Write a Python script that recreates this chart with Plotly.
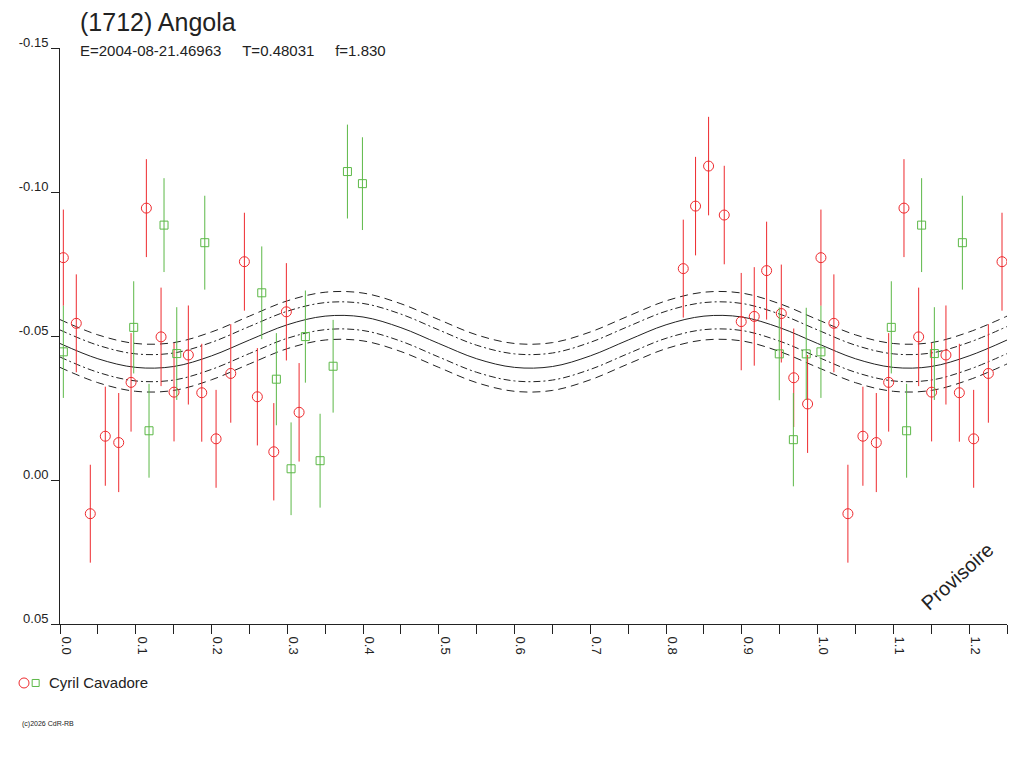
import plotly.graph_objects as go

# lightcurve data (phase, magnitude, error)
red_phase = [0.0044, 0.0215, 0.0400, 0.0598, 0.0775, 0.0938, 0.1140, 0.1334,
             0.1505, 0.1694, 0.1871, 0.2060, 0.2254, 0.2434, 0.2605, 0.2822,
             0.2988, 0.3156, 0.8227, 0.8389, 0.8561, 0.8768, 0.8992, 0.9164,
             0.9327, 0.9521, 0.9685, 0.9868]
red_mag = [-0.0772, -0.0544, 0.0117, -0.0152, -0.0130, -0.0339, -0.0944, -0.0497,
           -0.0305, -0.0434, -0.0303, -0.0143, -0.0370, -0.0758, -0.0289, -0.0098,
           -0.0584, -0.0235, -0.0734, -0.0951, -0.1090, -0.0920, -0.0550, -0.0568,
           -0.0727, -0.0578, -0.0355, -0.0264]
red_err = [0.0167, 0.0170, 0.0170, 0.0172, 0.0172, 0.0171, 0.0170, 0.0171,
           0.0171, 0.0172, 0.0170, 0.0170, 0.0171, 0.0170, 0.0169, 0.0169,
           0.0169, 0.0171, 0.0170, 0.0171, 0.0171, 0.0171, 0.0169, 0.0171,
           0.0170, 0.0170, 0.0171, 0.0170]

green_phase = [0.0044, 0.0973, 0.1175, 0.1373, 0.1541, 0.1911, 0.2663, 0.2856,
               0.3050, 0.3239, 0.3433, 0.3605, 0.3794, 0.3992, 0.9494, 0.9680,
               0.9850]
green_mag = [-0.0445, -0.0530, -0.0171, -0.0885, -0.0439, -0.0824, -0.0650, -0.0350,
             -0.0039, -0.0498, -0.0067, -0.0395, -0.1071, -0.1029, -0.0438, -0.0140,
             -0.0438]
green_err = [0.0160, 0.0160, 0.0163, 0.0163, 0.0161, 0.0163, 0.0161, 0.0160,
             0.0161, 0.0160, 0.0163, 0.0161, 0.0163, 0.0161, 0.0161, 0.0162,
             0.0160]

# fitted curve, read every 0.05 in phase
curve_phase = [0.00, 0.05, 0.10, 0.15, 0.20, 0.25, 0.30, 0.35, 0.40, 0.45,
               0.50, 0.55, 0.60, 0.65, 0.70, 0.75, 0.80, 0.85, 0.90, 0.95,
               1.00, 1.05, 1.10, 1.15, 1.20, 1.25]
curve_mag = [-0.0474, -0.0421, -0.0391, -0.0394, -0.0431, -0.0486, -0.0539, -0.0569,
             -0.0566, -0.0529, -0.0474, -0.0421, -0.0391, -0.0394, -0.0431, -0.0486,
             -0.0539, -0.0569, -0.0566, -0.0529, -0.0474, -0.0421, -0.0391, -0.0394,
             -0.0431, -0.0486]
inner_band = 0.0047
outer_band = 0.0083

y_ticks = [-0.15, -0.10, -0.05, 0.00, 0.05]
y_labels = ["-0.15", "-0.10", "-0.05", "0.00", "0.05"]
x_ticks = [0.0, 0.1, 0.2, 0.3, 0.4, 0.5, 0.6, 0.7, 0.8, 0.9, 1.0, 1.1, 1.2]
x_labels = ["0.0", "0.1", "0.2", "0.3", "0.4", "0.5", "0.6", "0.7", "0.8",
            "0.9", "1.0", "1.1", "1.2"]

RED = "#ee2a2e"
GREEN = "#5cb847"
INK = "#222222"
FONT = "Liberation Sans"
X_MAX = 1.25


def wrap(phase, mag, err):
    # repeat the start of the cycle after phase 1
    p, m, e = list(phase), list(mag), list(err)
    for a, b, c in zip(phase, mag, err):
        if a + 1 <= X_MAX:
            p.append(a + 1)
            m.append(b)
            e.append(c)
    return p, m, e


fig = go.Figure()

line_styles = [
    (outer_band, "8px,5px"),
    (inner_band, "7px,3px,2px,3px"),
    (-inner_band, "7px,3px,2px,3px"),
    (-outer_band, "8px,5px"),
]
for offset, dash in line_styles:
    fig.add_trace(go.Scatter(
        x=curve_phase, y=[v + offset for v in curve_mag],
        mode="lines", line=dict(color=INK, width=1, dash=dash, shape="spline"),
        hoverinfo="skip", showlegend=False))

fig.add_trace(go.Scatter(
    x=curve_phase, y=curve_mag, mode="lines",
    line=dict(color=INK, width=1, shape="spline"),
    hoverinfo="skip", showlegend=False))

for phase, mag, err, color, symbol, size in [
        (red_phase, red_mag, red_err, RED, "circle-open", 10),
        (green_phase, green_mag, green_err, GREEN, "square-open", 8)]:
    p, m, e = wrap(phase, mag, err)
    fig.add_trace(go.Scatter(
        x=p, y=m, mode="markers",
        marker=dict(symbol=symbol, size=size, color=color, line=dict(width=1, color=color)),
        error_y=dict(type="data", array=e, visible=True, color=color, thickness=1, width=0),
        showlegend=False))

fig.update_xaxes(
    range=[0, X_MAX], tickvals=x_ticks, ticktext=x_labels, tickangle=90,
    ticks="outside", ticklen=9, tickcolor=INK, ticklabelshift=6,
    minor=dict(dtick=0.05, ticks="outside", ticklen=9, tickcolor=INK),
    showline=True, linecolor=INK, linewidth=1, showgrid=False, zeroline=False,
    tickfont=dict(family=FONT, size=13, color=INK))
fig.update_yaxes(
    range=[0.05, -0.15], tickvals=y_ticks, ticktext=y_labels,
    ticks="outside", ticklen=8, tickcolor=INK, ticklabelshift=6,
    showline=True, linecolor=INK, linewidth=1, showgrid=False, zeroline=False,
    tickfont=dict(family=FONT, size=13, color=INK))

fig.add_annotation(text="(1712) Angola", xref="paper", yref="paper", x=0.019, y=1.046,
                   xanchor="left", yanchor="middle", showarrow=False,
                   font=dict(family=FONT, size=25, color=INK))
fig.add_annotation(text="E=2004-08-21.46963\u00a0\u00a0\u00a0\u00a0\u00a0T=0.48031\u00a0\u00a0\u00a0\u00a0\u00a0f=1.830",
                   xref="paper", yref="paper", x=0.019, y=0.9965,
                   xanchor="left", yanchor="middle", showarrow=False,
                   font=dict(family=FONT, size=15, color=INK))
fig.add_annotation(text="Provisoire", xref="paper", yref="paper", x=0.948, y=0.083,
                   xanchor="center", yanchor="middle", textangle=-42, showarrow=False,
                   font=dict(family=FONT, size=20, color=INK))
fig.add_annotation(text="Cyril Cavadore", xref="paper", yref="paper", x=-0.0135, y=-0.1024,
                   xanchor="left", yanchor="middle", showarrow=False,
                   font=dict(family=FONT, size=15, color=INK))
fig.add_annotation(text="(c)2026 CdR-RB", xref="paper", yref="paper", x=-0.042, y=-0.1736,
                   xanchor="left", yanchor="middle", showarrow=False,
                   font=dict(family=FONT, size=7, color=INK))

# legend symbols
fig.add_shape(type="circle", xref="paper", yref="paper", xsizemode="pixel", ysizemode="pixel",
              xanchor=-0.038, yanchor=-0.1024, x0=-5, x1=5, y0=-5, y1=5,
              line=dict(color=RED, width=1))
fig.add_shape(type="rect", xref="paper", yref="paper", xsizemode="pixel", ysizemode="pixel",
              xanchor=-0.0257, yanchor=-0.1024, x0=-3.5, x1=3.5, y0=-3.5, y1=3.5,
              line=dict(color=GREEN, width=1))

# the page adds an 8px body margin, so the figure is kept 8px smaller
fig.update_layout(
    width=1016, height=760,
    margin=dict(l=52, r=17, t=40, b=144, pad=0),
    paper_bgcolor="white", plot_bgcolor="white",
    showlegend=False,
    font=dict(family=FONT, color=INK),
)

fig.write_html("out.html")
